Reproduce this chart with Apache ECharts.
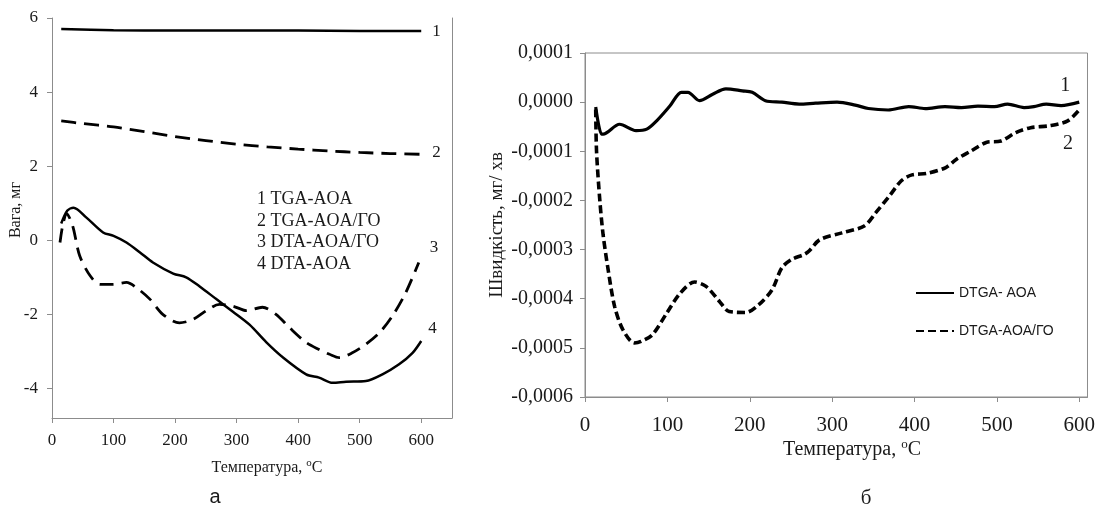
<!DOCTYPE html>
<html><head><meta charset="utf-8">
<script src="https://cdn.jsdelivr.net/npm/echarts@6/dist/echarts.min.js"></script>
<style>html,body{margin:0;padding:0;background:#fff}#c{width:1098px;height:507px}</style>
</head><body><div id="c"></div>
<script>
// ---------- Left chart (а) ----------
const leftXTicks = [0, 100, 200, 300, 400, 500, 600];
const leftYTicks = [-4, -2, 0, 2, 4, 6];
const tgaAoaT = [15, 100, 200, 300, 400, 500, 600];
const tgaAoaV = [5.70, 5.67, 5.66, 5.66, 5.66, 5.65, 5.65];
const tgaAoaGoT = [15, 50, 100, 150, 200, 250, 300, 350, 400, 450, 500, 550, 600];
const tgaAoaGoV = [3.22, 3.15, 3.06, 2.93, 2.80, 2.69, 2.59, 2.52, 2.46, 2.41, 2.37, 2.34, 2.32];
const dtaAoaGoT = [13, 18, 24, 30, 35, 45, 62, 78, 99, 121, 137, 159, 180, 207, 229, 251, 272, 294, 316, 342, 364, 386, 413, 434, 451, 467, 488, 510, 532, 553, 575, 596];
const dtaAoaGoV = [-0.06, 0.45, 0.72, 0.55, 0.30, -0.42, -0.96, -1.19, -1.19, -1.14, -1.28, -1.59, -2.0, -2.23, -2.14, -1.90, -1.73, -1.78, -1.90, -1.81, -2.0, -2.36, -2.76, -2.95, -3.08, -3.17, -3.04, -2.81, -2.50, -2.05, -1.41, -0.60];
const dtaAoaT = [15, 25, 35, 56, 83, 100, 121, 143, 164, 197, 218, 240, 267, 294, 321, 348, 375, 413, 434, 456, 478, 510, 537, 564, 586, 600];
const dtaAoaV = [0.45, 0.80, 0.88, 0.61, 0.21, 0.12, -0.06, -0.33, -0.60, -0.90, -1.0, -1.25, -1.59, -1.93, -2.28, -2.75, -3.16, -3.62, -3.71, -3.85, -3.82, -3.80, -3.62, -3.35, -3.04, -2.72];
const leftLegendLines = ['1 TGA-AOA', '2 TGA-AOA/ГО', '3 DTA-AOA/ГО', '4 DTA-AOA'];

// ---------- Right chart (б) ----------
const rightXTicks = [0, 100, 200, 300, 400, 500, 600];
const rightYTicks = [-0.0006, -0.0005, -0.0004, -0.0003, -0.0002, -0.0001, 0, 0.0001];
const dtgaAoaT = [13, 20, 22, 42, 62, 75, 87, 103, 117, 125, 139, 155, 171, 191, 203, 219, 239, 260, 280, 306, 328, 344, 368, 393, 413, 437, 457, 477, 497, 513, 533, 545, 560, 578, 600];
const dtgaAoaV = [-0.000010, -0.000065, -0.000065, -0.000045, -0.000058, -0.000055, -0.000038, -0.000008, 0.000020, 0.000020, 0.000003, 0.000016, 0.000027, 0.000023, 0.000020, 0.000003, 0.0, -0.000004, -0.000002, 0.0, -0.000006, -0.000013, -0.000016, -0.000009, -0.000013, -0.000009, -0.000011, -0.000008, -0.000009, -0.000004, -0.000011, -0.000009, -0.000004, -0.000007, 0.0];
const dtgaAoaGoT = [13, 14, 18, 22, 28, 36, 46, 60, 68, 82, 99, 115, 133, 147, 163, 175, 195, 211, 227, 239, 251, 266, 272, 285, 312, 339, 353, 370, 384, 397, 415, 438, 451, 469, 487, 505, 523, 541, 564, 586, 601];
const dtgaAoaGoV = [-0.000015, -0.0001, -0.0002, -0.00027, -0.00034, -0.000416, -0.000463, -0.00049, -0.000487, -0.000473, -0.00043, -0.00039, -0.000366, -0.000375, -0.000405, -0.000426, -0.000428, -0.000412, -0.000382, -0.000337, -0.00032, -0.00031, -0.000303, -0.00028, -0.000266, -0.000252, -0.000225, -0.00019, -0.00016, -0.000148, -0.000145, -0.000133, -0.000116, -0.000099, -0.000082, -0.000079, -0.000062, -0.000052, -0.000048, -0.000038, -0.000014];
const rightLegend = ['DTGA- AOA', 'DTGA-AOA/ГО'];

const pairs = (xs, ys) => xs.map((x, i) => [x, ys[i]]);
const SERIF = '"Liberation Serif", "Times New Roman", serif';
const SANS = '"Liberation Sans", Arial, sans-serif';
const AX = '#8c8c8c';
const TXT = '#1a1a1a';
const fmtR = v => (v < -1e-9 ? '-' : '') + Math.abs(v).toFixed(4).replace('.', ',');

const baseAxis = (extra) => Object.assign({
  type: 'value', splitLine: { show: false },
  axisLine: { show: true, onZero: false, lineStyle: { color: AX, width: 1 } }
}, extra);

const chart = echarts.init(document.getElementById('c'), null, { renderer: 'canvas' });
chart.setOption({
  animation: false,
  backgroundColor: '#fff',
  color: ['#000'],
  grid: [
    { left: 52, top: 18, width: 400, height: 400, show: false },
    { left: 585, top: 53, width: 503, height: 344, show: true, borderColor: AX, borderWidth: 1, backgroundColor: 'transparent' }
  ],
  xAxis: [
    baseAxis({ gridIndex: 0, min: 0, max: 650,
      axisTick: { show: true, customValues: leftXTicks, length: 5, lineStyle: { color: AX } },
      axisLabel: { customValues: leftXTicks, fontFamily: SERIF, fontSize: 17, color: TXT, margin: 14 } }),
    baseAxis({ gridIndex: 1, min: 0, max: 610,
      axisTick: { show: true, customValues: rightXTicks, length: 5, lineStyle: { color: AX } },
      axisLabel: { customValues: rightXTicks, fontFamily: SERIF, fontSize: 21, color: TXT, margin: 18 } })
  ],
  yAxis: [
    baseAxis({ gridIndex: 0, min: -4.8, max: 6,
      axisTick: { show: true, customValues: leftYTicks, length: 5, lineStyle: { color: AX } },
      axisLabel: { customValues: leftYTicks, fontFamily: SERIF, fontSize: 17, color: TXT, margin: 14 } }),
    baseAxis({ gridIndex: 0, min: -4.8, max: 6, position: 'right',
      axisTick: { show: false }, axisLabel: { show: false } }),
    baseAxis({ gridIndex: 1, min: -0.0006, max: 0.0001,
      axisTick: { show: true, customValues: rightYTicks, length: 5, lineStyle: { color: AX } },
      axisLabel: { customValues: rightYTicks, formatter: fmtR, fontFamily: SERIF, fontSize: 20, color: TXT, margin: 12 } })
  ],
  legend: {
    data: rightLegend, orient: 'vertical', left: 910, top: 281,
    itemWidth: 38, itemHeight: 14, itemGap: 24,
    itemStyle: { color: 'transparent', borderColor: 'transparent', borderWidth: 0, opacity: 0 },
    textStyle: { fontFamily: SANS, fontSize: 14, color: TXT }
  },
  series: [
    { name: leftLegendLines[0], type: 'line', xAxisIndex: 0, yAxisIndex: 0, data: pairs(tgaAoaT, tgaAoaV),
      symbol: 'none', smooth: 0.3, itemStyle: { color: '#000' }, lineStyle: { color: '#000', width: 2.5 },
      endLabel: { show: true, formatter: '1', distance: 11, offset: [0, 1], fontFamily: SERIF, fontSize: 17, color: TXT } },
    { name: leftLegendLines[1], type: 'line', xAxisIndex: 0, yAxisIndex: 0, data: pairs(tgaAoaGoT, tgaAoaGoV),
      symbol: 'none', smooth: 0.3, itemStyle: { color: '#000' }, lineStyle: { color: '#000', width: 2.8, type: [15, 8] },
      endLabel: { show: true, formatter: '2', distance: 11, offset: [0, -2], fontFamily: SERIF, fontSize: 17, color: TXT } },
    { name: leftLegendLines[2], type: 'line', xAxisIndex: 0, yAxisIndex: 0, data: pairs(dtaAoaGoT, dtaAoaGoV),
      symbol: 'none', smooth: 0.3, itemStyle: { color: '#000' }, lineStyle: { color: '#000', width: 2.8, type: [14, 8] },
      endLabel: { show: true, formatter: '3', distance: 11, offset: [0, -15], fontFamily: SERIF, fontSize: 17, color: TXT } },
    { name: leftLegendLines[3], type: 'line', xAxisIndex: 0, yAxisIndex: 0, data: pairs(dtaAoaT, dtaAoaV),
      symbol: 'none', smooth: 0.3, itemStyle: { color: '#000' }, lineStyle: { color: '#000', width: 2.5 },
      endLabel: { show: true, formatter: '4', distance: 7, offset: [0, -12], fontFamily: SERIF, fontSize: 17, color: TXT } },
    { name: rightLegend[0], type: 'line', xAxisIndex: 1, yAxisIndex: 2, data: pairs(dtgaAoaT, dtgaAoaV),
      symbol: 'none', smooth: 0.3, itemStyle: { color: '#000' }, lineStyle: { color: '#000', width: 3.2 },
      endLabel: { show: true, formatter: '1', distance: 0, offset: [-19, -16], fontFamily: SERIF, fontSize: 20, color: TXT } },
    { name: rightLegend[1], type: 'line', xAxisIndex: 1, yAxisIndex: 2, data: pairs(dtgaAoaGoT, dtgaAoaGoV),
      symbol: 'none', smooth: 0.3, itemStyle: { color: '#000' }, lineStyle: { color: '#000', width: 3.6, type: [8, 4] },
      endLabel: { show: true, formatter: '2', distance: 0, offset: [-17, 35], fontFamily: SERIF, fontSize: 20, color: TXT } }
  ],
  graphic: [
    { type: 'text', x: 257, y: 189, style: { text: leftLegendLines.join('\n'), font: '18px ' + SERIF, lineHeight: 21.5, fill: TXT } },
    { type: 'text', x: 267, y: 468, style: {
        text: '{a|Температура, }{s|o}{a|C}', align: 'center', verticalAlign: 'middle', fill: TXT,
        rich: { a: { fontFamily: SERIF, fontSize: 16, lineHeight: 20, fill: TXT }, s: { fontFamily: SERIF, fontSize: 11, verticalAlign: 'top', lineHeight: 12, fill: TXT } } } },
    { type: 'text', x: 16, y: 210, rotation: Math.PI / 2, style: { text: 'Вага, мг', align: 'center', verticalAlign: 'middle', font: '16px ' + SERIF, fill: TXT } },
    { type: 'text', x: 215, y: 497, style: { text: 'а', align: 'center', verticalAlign: 'middle', font: '20px ' + SANS, fill: TXT } },
    { type: 'text', x: 852, y: 450, style: {
        text: '{a|Температура, }{s|o}{a|C}', align: 'center', verticalAlign: 'middle', fill: TXT,
        rich: { a: { fontFamily: SERIF, fontSize: 20, lineHeight: 24, fill: TXT }, s: { fontFamily: SERIF, fontSize: 13, verticalAlign: 'top', lineHeight: 14, fill: TXT } } } },
    { type: 'text', x: 497, y: 225, rotation: Math.PI / 2, style: { text: 'Швидкість, мг/ хв', align: 'center', verticalAlign: 'middle', font: '19px ' + SERIF, fill: TXT } },
    { type: 'text', x: 866, y: 498, style: { text: 'б', align: 'center', verticalAlign: 'middle', font: '21px ' + SERIF, fill: TXT } }
  ]
});
</script>
</body></html>
